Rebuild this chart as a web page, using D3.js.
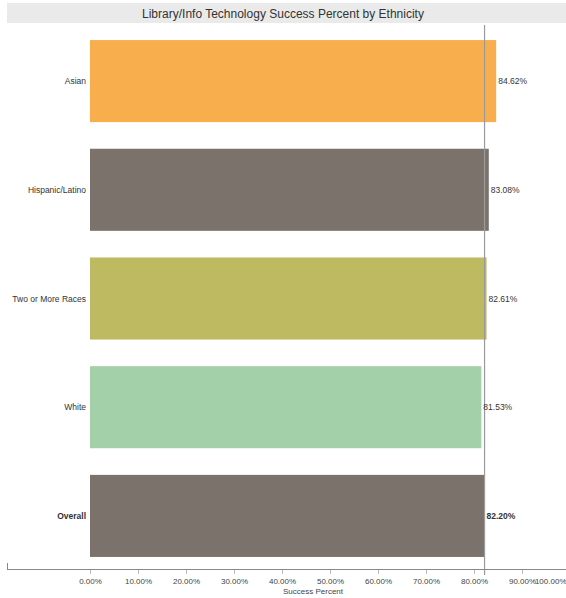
<!DOCTYPE html>
<html>
<head>
<meta charset="utf-8">
<script src="https://cdn.jsdelivr.net/npm/d3@7"></script>
<style>
  body { margin: 0; background: #fff; }
  svg { display: block; font-family: "Liberation Sans", Arial, sans-serif; }
</style>
</head>
<body>
<svg id="chart" width="566" height="598"></svg>
<script>
const categories = ["Asian", "Hispanic/Latino", "Two or More Races", "White", "Overall"];
const successPercent = [84.62, 83.08, 82.61, 81.53, 82.20];
const barColors = ["#F9AE4E", "#7B726B", "#BEBA62", "#A3CFA9", "#7B726B"];
const tickValues = [0, 10, 20, 30, 40, 50, 60, 70, 80, 90, 100];
const referenceValue = 82.20;

const svg = d3.select("#chart");
const W = 566, H = 598;

// title band
svg.append("rect").attr("x", 7).attr("y", 3).attr("width", W - 7).attr("height", 20).attr("fill", "#EAEAEA");
svg.append("text").attr("x", 283).attr("y", 17.5).attr("text-anchor", "middle")
  .attr("font-size", 12).attr("fill", "#333").text("Library/Info Technology Success Percent by Ethnicity");

const x = d3.scaleLinear().domain([0, 100]).range([90, 570]);
const y = d3.scaleBand().domain(categories).range([27, 570]).paddingInner(0.245).paddingOuter(0.12);

const data = categories.map((c, i) => ({ c, v: successPercent[i], color: barColors[i] }));

svg.append("g").selectAll("rect").data(data).join("rect")
  .attr("x", x(0)).attr("y", d => y(d.c))
  .attr("width", d => x(d.v) - x(0)).attr("height", y.bandwidth())
  .attr("fill", d => d.color);

// reference line
svg.append("line").attr("x1", x(referenceValue)).attr("x2", x(referenceValue))
  .attr("y1", 25).attr("y2", 575).attr("stroke", "#9A9A9A").attr("stroke-width", 1.2);

// value labels
svg.append("g").selectAll("text").data(data).join("text")
  .attr("x", d => x(d.v) + 2).attr("y", d => y(d.c) + y.bandwidth() / 2 + 3)
  .attr("font-size", 8.5).attr("fill", "#333")
  .attr("font-weight", d => d.c === "Overall" ? "bold" : "normal")
  .text(d => d.v.toFixed(2) + "%");

// category labels
svg.append("g").selectAll("text").data(data).join("text")
  .attr("x", 86).attr("y", d => y(d.c) + y.bandwidth() / 2 + 3)
  .attr("text-anchor", "end").attr("font-size", 8.5).attr("fill", "#333")
  .attr("font-weight", d => d.c === "Overall" ? "bold" : "normal")
  .text(d => d.c);

// x axis
svg.append("line").attr("x1", 7).attr("x2", W).attr("y1", 569.5).attr("y2", 569.5)
  .attr("stroke", "#888").attr("stroke-width", 1);
svg.append("line").attr("x1", 7.5).attr("x2", 7.5).attr("y1", 563).attr("y2", 570)
  .attr("stroke", "#888");

const axis = d3.axisBottom(x).tickValues(tickValues).tickSize(4).tickFormat(d => d.toFixed(2) + "%");
const gx = svg.append("g").attr("transform", "translate(0,570)").call(axis);
gx.select(".domain").remove();
gx.selectAll(".tick line").attr("stroke", "#bbb");
gx.selectAll(".tick text").attr("font-size", 8).attr("fill", "#444")
  .attr("font-family", "\"Liberation Sans\", Arial, sans-serif").attr("dy", "0.9em");
gx.selectAll(".tick").filter(d => d === 100).select("text").attr("text-anchor", "end").attr("x", -4);

svg.append("text").attr("x", 313).attr("y", 594).attr("text-anchor", "middle")
  .attr("font-size", 8).attr("fill", "#444").text("Success Percent");
</script>
</body>
</html>
